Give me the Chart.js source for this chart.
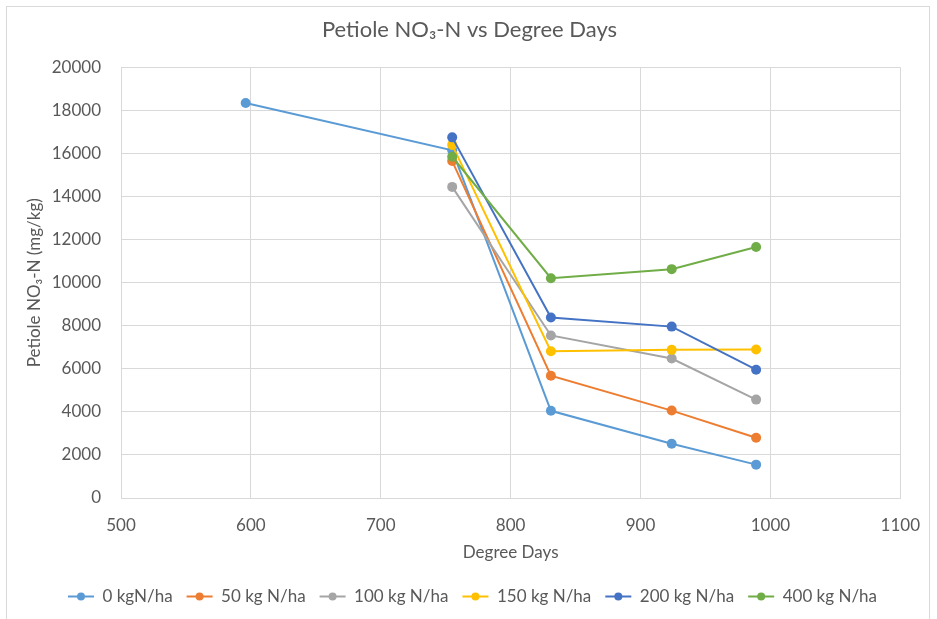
<!DOCTYPE html>
<html>
<head>
<meta charset="utf-8">
<title>Petiole NO3-N vs Degree Days</title>
<script src="https://cdn.jsdelivr.net/npm/chart.js@4.4.1/dist/chart.umd.min.js"></script>
<style>
  html, body { margin: 0; padding: 0; background: #fff; }
  #wrap { position: relative; width: 937px; height: 619px; overflow: hidden; }
  #frame {
    position: absolute; left: 6px; top: 6px; width: 924px; height: 640px;
    border: 1px solid #d9d9d9; box-sizing: border-box;
  }
  #chart { position: absolute; left: 0; top: 0; }
</style>
</head>
<body>
<div id="wrap">
  <div id="frame"></div>
  <canvas id="chart" width="937" height="619"></canvas>
</div>
<script>
// ── Données ──
const degreeDays = [596, 755, 831, 924, 989];
const n0   = [18350, 16150, 4050, 2520, 1550];
const n50  = [null, 15650, 5680, 4060, 2800];
const n100 = [null, 14450, 7550, 6480, 4570];
const n150 = [null, 16400, 6820, 6880, 6900];
const n200 = [null, 16750, 8380, 7960, 5960];
const n400 = [null, 15850, 10210, 10630, 11660];

const seriesNames = ['0 kgN/ha', '50 kg N/ha', '100 kg N/ha', '150 kg N/ha', '200 kg N/ha', '400 kg N/ha'];
const seriesValues = [n0, n50, n100, n150, n200, n400];
const colors = ['#5b9bd5', '#ed7d31', '#a5a5a5', '#ffc000', '#4472c4', '#70ad47'];

const xTicks = [500, 600, 700, 800, 900, 1000, 1100];
const yTicks = [0, 2000, 4000, 6000, 8000, 10000, 12000, 14000, 16000, 18000, 20000];

const txt = '#595959';
const grid = '#d9d9d9';
const FONT = 'Lato, "Open Sans", sans-serif';

const datasets = seriesValues.map((vals, i) => ({
  label: seriesNames[i],
  data: degreeDays.map((x, k) => ({ x, y: vals[k] })).filter(p => p.y !== null),
  showLine: true,
  borderColor: colors[i],
  backgroundColor: colors[i],
  borderWidth: 2,
  pointRadius: 5,
  pointBorderWidth: 0,
  pointHoverRadius: 5,
  order: seriesValues.length - i   // la dernière série passe au-dessus, comme Excel
}));

// Titre et légende centrés sur toute la largeur (comme Excel), pas sur la zone du graphe
const recenter = {
  id: 'recenter',
  afterLayout(chart) {
    if (chart.titleBlock) { chart.titleBlock.left += 14; chart.titleBlock.right += 14; }
    if (chart.legend) { chart.legend.left += 17; chart.legend.right += 17; }
  }
};

// Légende : trait + rond au milieu
const legendDots = {
  id: 'legendDots',
  afterDraw(chart) {
    const lg = chart.legend;
    if (!lg || !lg.legendHitBoxes) return;
    const ctx = chart.ctx;
    const bw = lg.options.labels.boxWidth;
    lg.legendHitBoxes.forEach((hb, i) => {
      ctx.save();
      ctx.fillStyle = colors[i];
      ctx.beginPath();
      ctx.arc(hb.left + bw / 2, hb.top + hb.height / 2, 4, 0, Math.PI * 2);
      ctx.fill();
      ctx.restore();
    });
  }
};

new Chart(document.getElementById('chart').getContext('2d'), {
  type: 'scatter',
  data: { datasets },
  plugins: [recenter, legendDots],
  options: {
    responsive: false,
    animation: false,
    layout: { padding: { left: 10, right: 36, top: 0, bottom: 4 } },
    plugins: {
      title: {
        display: true,
        text: 'Petiole NO₃-N vs Degree Days',
        color: txt,
        font: { family: FONT, size: 22, weight: 'normal' },
        padding: { top: 17, bottom: 24 }
      },
      legend: {
        position: 'bottom',
        labels: {
          color: txt,
          font: { family: FONT, size: 17 },
          boxWidth: 26,
          boxHeight: 2,
          padding: 14,
          generateLabels: chart => chart.data.datasets.map((ds, i) => ({
            text: ds.label,
            fillStyle: colors[i],
            strokeStyle: colors[i],
            lineWidth: 0,
            fontColor: txt,
            datasetIndex: i,
            hidden: false
          }))
        }
      },
      tooltip: { enabled: false }
    },
    scales: {
      x: {
        type: 'linear',
        min: 500, max: 1100,
        afterBuildTicks: s => { s.ticks = xTicks.map(v => ({ value: v })); },
        afterFit: s => { s.height = 76; },
        ticks: { color: txt, font: { family: FONT, size: 17 }, padding: 17, callback: v => String(v) },
        grid: { color: grid, drawTicks: false },
        border: { color: grid },
        title: {
          display: true, text: 'Degree Days', color: txt,
          font: { family: FONT, size: 17 }, padding: { top: 0, bottom: 11 }
        }
      },
      y: {
        type: 'linear',
        min: 0, max: 20000,
        afterBuildTicks: s => { s.ticks = yTicks.map(v => ({ value: v })); },
        afterFit: s => { s.width = 111; },
        ticks: { color: txt, font: { family: FONT, size: 17 }, padding: 20, callback: v => String(v) },
        grid: { color: grid, drawTicks: false },
        border: { color: grid },
        title: {
          display: true, text: 'Petiole NO₃-N (mg/kg)', color: txt,
          font: { family: FONT, size: 17 }, padding: { top: 14, bottom: 0 }
        }
      }
    }
  }
});
</script>
</body>
</html>
